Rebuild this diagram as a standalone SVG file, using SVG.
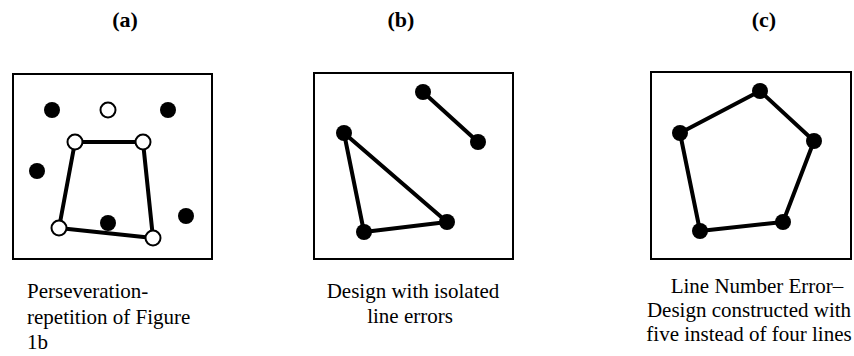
<svg xmlns="http://www.w3.org/2000/svg" width="854" height="356" viewBox="0 0 854 356">
<style>
.frame{fill:none;stroke:#000;stroke-width:2}
.edge{stroke:#000;stroke-width:4;stroke-linecap:round}
.dot{fill:#000}
.open{fill:#fff;stroke:#000;stroke-width:2}
.title{font-weight:bold;font-size:22px;text-anchor:middle}
.cap{font-size:21px}
.mid{text-anchor:middle}
</style>
<rect width="854" height="356" fill="#fff"/>
<g font-family="'Liberation Serif', 'DejaVu Serif', serif">
<g id="panel-a">
<text class="title" x="125" y="27">(a)</text>
<rect class="frame" x="13" y="74" width="199" height="185"/>
<g id="a-connectors">
<line class="edge" x1="75" y1="142" x2="143" y2="142"/>
<line class="edge" x1="143" y1="142" x2="153" y2="238"/>
<line class="edge" x1="153" y1="238" x2="59" y2="228"/>
<line class="edge" x1="59" y1="228" x2="75" y2="142"/>
</g>
<g id="a-nodes">
<circle class="dot" cx="52" cy="110" r="8"/>
<circle class="open" cx="108" cy="110" r="7.5"/>
<circle class="dot" cx="168" cy="110" r="8"/>
<circle class="dot" cx="37" cy="171" r="8"/>
<circle class="dot" cx="186" cy="216" r="8"/>
<circle class="dot" cx="108" cy="223" r="8"/>
<circle class="open" cx="75" cy="142" r="7.5"/>
<circle class="open" cx="143" cy="142" r="7.5"/>
<circle class="open" cx="59" cy="228" r="7.5"/>
<circle class="open" cx="153" cy="238" r="7.5"/>
</g>
<text class="cap" x="27" y="298">Perseveration-</text>
<text class="cap" x="27" y="324">repetition of Figure</text>
<text class="cap" x="27" y="349">1b</text>
</g>
<g id="panel-b">
<text class="title" x="401" y="27">(b)</text>
<rect class="frame" x="314" y="73" width="199" height="186"/>
<g id="b-connectors">
<line class="edge" x1="423" y1="92" x2="478" y2="142"/>
<line class="edge" x1="344" y1="133" x2="364" y2="232"/>
<line class="edge" x1="344" y1="133" x2="447" y2="222"/>
<line class="edge" x1="364" y1="232" x2="447" y2="222"/>
</g>
<g id="b-nodes">
<circle class="dot" cx="423" cy="92" r="8"/>
<circle class="dot" cx="478" cy="142" r="8"/>
<circle class="dot" cx="344" cy="133" r="8"/>
<circle class="dot" cx="364" cy="232" r="8"/>
<circle class="dot" cx="447" cy="222" r="8"/>
</g>
<text class="cap mid" x="413" y="298">Design with isolated</text>
<text class="cap mid" x="410" y="323">line errors</text>
</g>
<g id="panel-c">
<text class="title" x="764" y="27">(c)</text>
<rect class="frame" x="651" y="72" width="200" height="187"/>
<g id="c-connectors">
<line class="edge" x1="680" y1="133" x2="760" y2="91"/>
<line class="edge" x1="760" y1="91" x2="814" y2="141"/>
<line class="edge" x1="814" y1="141" x2="783" y2="222"/>
<line class="edge" x1="783" y1="222" x2="700" y2="231"/>
<line class="edge" x1="700" y1="231" x2="680" y2="133"/>
</g>
<g id="c-nodes">
<circle class="dot" cx="680" cy="133" r="8"/>
<circle class="dot" cx="760" cy="91" r="8"/>
<circle class="dot" cx="814" cy="141" r="8"/>
<circle class="dot" cx="783" cy="222" r="8"/>
<circle class="dot" cx="700" cy="231" r="8"/>
</g>
<text class="cap mid" x="757" y="293">Line Number Error–</text>
<text class="cap mid" x="749" y="317">Design constructed with</text>
<text class="cap mid" x="749" y="341">five instead of four lines</text>
</g>
</g>
</svg>
